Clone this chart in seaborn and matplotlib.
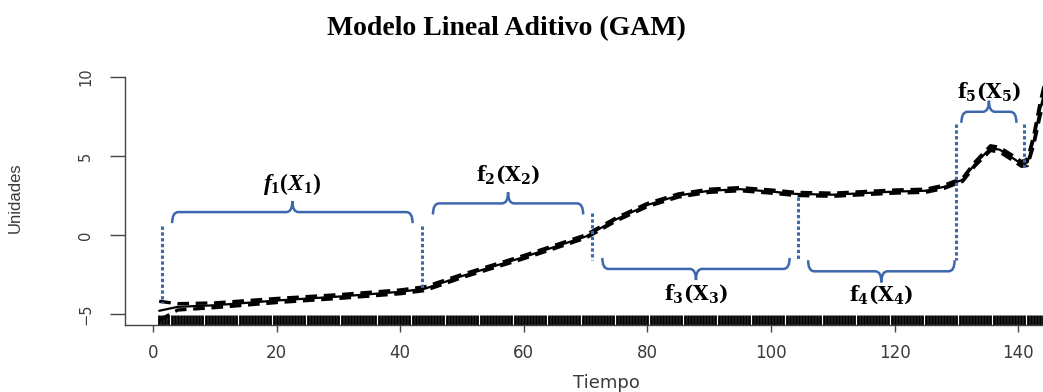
import matplotlib
matplotlib.use("Agg")
import matplotlib.pyplot as plt
from matplotlib.path import Path
from matplotlib.patches import PathPatch
import pandas as pd
import seaborn as sns

# curva ajustada del modelo aditivo
tiempo = [1, 4, 10, 20, 30, 40, 44, 50, 60, 70, 75, 80, 85, 90, 95, 100, 104, 110,
          115, 120, 125, 128, 131, 133, 135.5, 137, 139, 140.5, 141.5, 142.5, 143.5, 144.2]
efecto = [-4.8, -4.55, -4.45, -4.15, -3.9, -3.6, -3.4, -2.6, -1.4, -0.1, 1.0, 1.9, 2.5,
          2.8, 2.9, 2.75, 2.6, 2.55, 2.65, 2.75, 2.8, 3.05, 3.5, 4.5, 5.5, 5.4, 4.9, 4.5,
          4.6, 6.0, 7.9, 9.0]
error_std = [0.6, 0.2, 0.15, 0.13, 0.12, 0.12, 0.12, 0.1, 0.1, 0.1, 0.1, 0.1, 0.1, 0.1,
             0.1, 0.1, 0.1, 0.1, 0.1, 0.1, 0.1, 0.1, 0.1, 0.12, 0.15, 0.15, 0.15, 0.15,
             0.2, 0.3, 0.4, 0.5]

# tiempos observados (marcas del eje)
tiempo_obs = [i / 2 for i in range(2, 289)]

# cortes entre los componentes f_i(X_i)
cortes = [1.5, 43.6, 71.0, 104.3, 130.0, 141.0]
etiquetas = [r"$f_1(X_1)$", r"$\mathbf{f_2(X_2)}$", r"$\mathbf{f_3(X_3)}$",
             r"$\mathbf{f_4(X_4)}$", r"$\mathbf{f_5(X_5)}$"]

df = pd.DataFrame({"Tiempo": tiempo, "Unidades": efecto, "se": error_std})
df["sup"] = df["Unidades"] + df["se"]
df["inf"] = df["Unidades"] - df["se"]

sns.set_style("ticks")
plt.rcParams["mathtext.fontset"] = "custom"
plt.rcParams["mathtext.it"] = "Liberation Serif:italic:bold"
plt.rcParams["mathtext.rm"] = "Liberation Serif:bold"
plt.rcParams["mathtext.bf"] = "DejaVu Serif:bold"

fig = plt.figure(figsize=(10.43, 3.92), dpi=100)
ax = fig.add_axes([125 / 1043, 1 - 325 / 392, 1 - 125 / 1043, 265 / 392])

gris = "#3a3a3a"
azul = "#3d68ad"

# bandas de error y ajuste
for col in ["sup", "inf"]:
    sns.lineplot(data=df, x="Tiempo", y=col, ax=ax, color="black", lw=2.4,
                 linestyle=(0, (3.5, 2)), sort=False)
sns.lineplot(data=df, x="Tiempo", y="Unidades", ax=ax, color="black", lw=1.6, sort=False)
sns.rugplot(x=tiempo_obs, ax=ax, height=0.038, color="black", linewidth=2.0,
            expand_margins=False)

# lineas punteadas de los cortes
extremos = [(0.6, -4.3), (0.6, -3.5), (1.4, -1.6), (2.4, -1.6), (7.0, -1.6), (7.0, 4.3)]
for xc, (y0, y1) in zip(cortes, extremos):
    ax.plot([xc, xc], [y0, y1], color=azul, lw=2.2, linestyle=(0, (1.1, 0.8)),
            solid_capstyle="butt")


def llave(x0, x1, y, arriba=True, h=0.7, rx=1.0):
    s = 1 if arriba else -1
    xm = (x0 + x1) / 2
    verts = [(x0, y - s * h), (x0, y), (x0 + rx, y),
             (xm - rx, y), (xm, y), (xm, y + s * h),
             (xm, y), (xm + rx, y),
             (x1 - rx, y), (x1, y), (x1, y - s * h)]
    codes = [Path.MOVETO, Path.CURVE3, Path.CURVE3,
             Path.LINETO, Path.CURVE3, Path.CURVE3,
             Path.CURVE3, Path.CURVE3,
             Path.LINETO, Path.CURVE3, Path.CURVE3]
    ax.add_patch(PathPatch(Path(verts, codes), fill=False, edgecolor=azul, lw=1.8))
    return xm


llaves = [(3.1, 42.0, 1.45, True, 3.2), (45.3, 69.6, 2.0, True, 3.8),
          (72.7, 103.0, -2.15, False, -3.7), (106.0, 129.7, -2.3, False, -3.8),
          (130.8, 139.7, 7.8, True, 9.07)]
tamanos = [17, 14.5, 14.5, 14.5, 14.5]
for (x0, x1, y, arriba, yl), lab, fs in zip(llaves, etiquetas, tamanos):
    xm = llave(x0, x1, y, arriba)
    ax.text(xm, yl, lab, ha="center", va="center", fontsize=fs, color="black")

ax.set_xlim(-4.53, 144.0)
ax.set_ylim(-5.70, 11.08)
ax.set_xticks([0, 20, 40, 60, 80, 100, 120, 140])
ax.set_yticks([-5, 0, 5, 10])
ax.spines["top"].set_visible(False)
ax.spines["right"].set_visible(False)
ax.spines["left"].set_bounds(-5.70, 10)
for sp in ["left", "bottom"]:
    ax.spines[sp].set_color("#444444")
    ax.spines[sp].set_linewidth(1.0)

ax.tick_params(axis="x", length=5, width=1, pad=9, labelsize=12, colors="#444444",
               labelcolor=gris)
ax.tick_params(axis="y", length=11, width=1, pad=12, labelsize=10.5, colors="#444444",
               labelcolor=gris, labelrotation=90)
for lab in ax.get_yticklabels():
    lab.set_va("center")

ax.set_xlabel("Tiempo", fontsize=13, color=gris)
ax.set_ylabel("Unidades", fontsize=12, color=gris,
              family=["Liberation Sans Narrow", "Liberation Sans"])
ax.xaxis.set_label_coords(0.524, -0.185)
ax.yaxis.set_label_coords(-0.111, 0.479)

fig.text(506 / 1043, 1 - 35 / 392, "Modelo Lineal Aditivo (GAM)", ha="center",
         va="baseline", fontsize=20, fontweight="bold", family="Liberation Serif",
         color="black")

fig.savefig("out.png", dpi=100)
